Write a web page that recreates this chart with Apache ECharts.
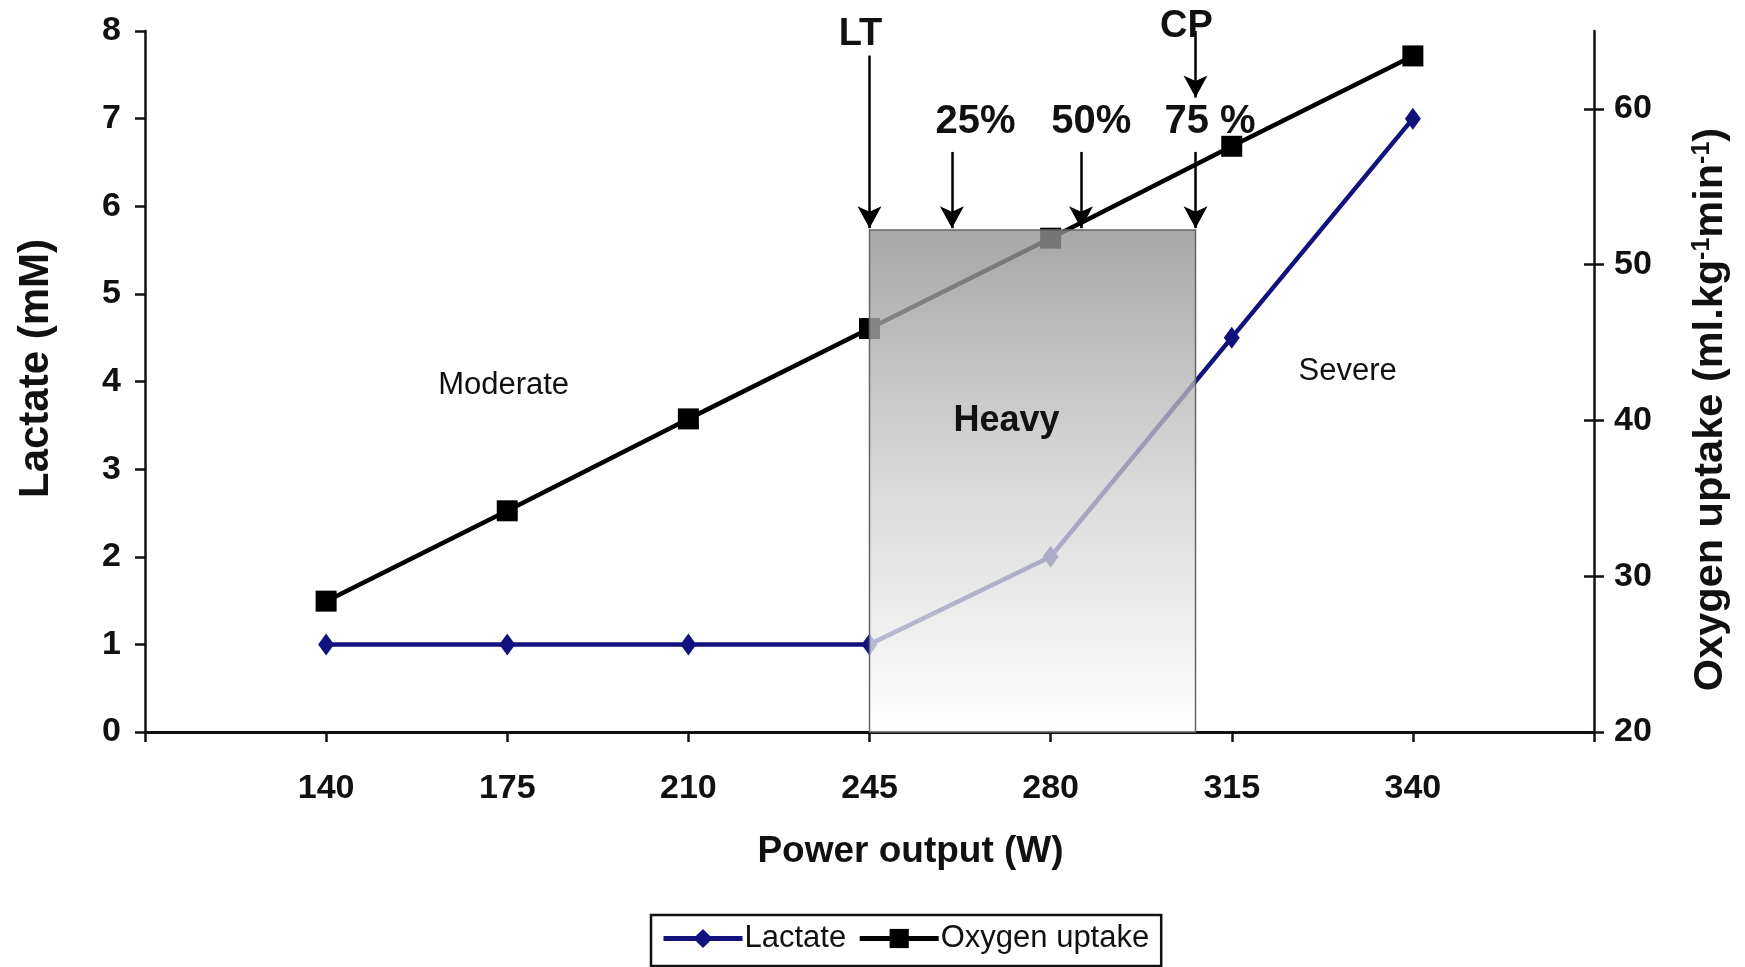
<!DOCTYPE html>
<html>
<head>
<meta charset="utf-8">
<title>Lactate and oxygen uptake vs power output</title>
<script src="https://cdn.jsdelivr.net/npm/echarts@6/dist/echarts.min.js"></script>
<style>
  html, body { margin: 0; padding: 0; background: #fff; }
  #chart { width: 1745px; height: 967px; }
</style>
</head>
<body>
<div id="chart"></div>
<script>
// Power steps (W) shown on the x axis, one per position 1..7
const powerLabels = ['140', '175', '210', '245', '280', '315', '340'];
// Blood lactate (mM), left axis
const lactate = [1, 1, 1, 1, 2, 4.5, 7];
// Oxygen uptake (ml.kg-1.min-1), right axis
const oxygenUptake = [28.4, 34.2, 40.1, 45.9, 51.7, 57.6, 63.4];

// Intensity domains and threshold markers, in axis units (x position, lactate mM)
const heavyZone = { from: 4, to: 5.8, top: 5.73 };
const markerArrows = [
  { x: 4, from: 7.72, to: 5.75 },      // LT
  { x: 4.455, from: 6.62, to: 5.75 },  // 25%
  { x: 5.168, from: 6.62, to: 5.75 },  // 50%
  { x: 5.8, from: 6.62, to: 5.75 },    // 75 %
  { x: 5.8, from: 8.0, to: 7.24 }      // CP
];
const markerTexts = [
  { name: 'LT', x: 3.95, y: 7.98, dy: 2, size: 38, weight: 'bold' },
  { name: 'CP', x: 5.75, y: 8.0, dy: -4, size: 38, weight: 'bold' },
  { name: '25%', x: 4.585, y: 6.96, dy: 0, size: 40, weight: 'bold' },
  { name: '50%', x: 5.225, y: 6.96, dy: 0, size: 40, weight: 'bold' },
  { name: '75 %', x: 5.88, y: 6.96, dy: 0, size: 40, weight: 'bold' },
  { name: 'Moderate', x: 1.98, y: 3.95, dy: 0, size: 31, weight: 'normal' },
  { name: 'Heavy', x: 4.756, y: 3.55, dy: 0, size: 36, weight: 'bold' },
  { name: 'Severe', x: 6.64, y: 4.12, dy: 0, size: 31, weight: 'normal' }
];

const FONT = "'Liberation Sans', Arial, Helvetica, sans-serif";
const INK = '#111';
const NAVY = '#12127f';

const chart = echarts.init(document.getElementById('chart'), null, { renderer: 'canvas' });

const axisLineStyle = { show: true, lineStyle: { color: INK, width: 2.5 } };
const rightTicks = [20, 30, 40, 50, 60];

const option = {
  animation: false,
  backgroundColor: '#fff',
  textStyle: { fontFamily: FONT, color: INK },
  grid: { left: 145, right: 151, top: 31, bottom: 235, containLabel: false },
  legend: {
    data: ['Lactate', 'Oxygen uptake'],
    left: 651,
    top: 915,
    padding: [8, 12, 12, 10],
    itemGap: 11,
    itemWidth: 79,
    itemHeight: 24,
    borderColor: INK,
    borderWidth: 2.5,
    lineStyle: { width: 5 },
    textStyle: { fontFamily: FONT, fontSize: 31, color: INK, padding: [0, 0, 0, -3] }
  },
  xAxis: {
    type: 'value',
    min: 0,
    max: 8,
    interval: 1,
    name: 'Power output (W)',
    nameLocation: 'middle',
    nameGap: 101,
    nameTextStyle: { fontFamily: FONT, fontSize: 37, fontWeight: 'bold', color: INK, padding: [0, 0, 0, 82] },
    axisLine: { show: true, onZero: false, lineStyle: { color: INK, width: 3 } },
    axisTick: { show: true, inside: false, length: 10, lineStyle: { color: INK, width: 2.5 } },
    axisLabel: {
      margin: 40,
      fontFamily: FONT,
      fontSize: 34,
      fontWeight: 'bold',
      color: INK,
      formatter: v => powerLabels[v - 1] || ''
    },
    splitLine: { show: false }
  },
  yAxis: [
    {
      type: 'value',
      position: 'left',
      min: 0,
      max: 8,
      interval: 1,
      name: 'Lactate (mM)',
      nameLocation: 'middle',
      nameGap: 88,
      nameTextStyle: { fontFamily: FONT, fontSize: 42, fontWeight: 'bold', color: INK, padding: [0, 0, 0, 26] },
      axisLine: axisLineStyle,
      axisTick: { show: true, length: 10, lineStyle: { color: INK, width: 2.5 } },
      axisLabel: { margin: 24, fontFamily: FONT, fontSize: 34, fontWeight: 'bold', color: INK },
      splitLine: { show: false }
    },
    {
      type: 'value',
      position: 'right',
      min: 20,
      max: 65,
      interval: 10,
      name: 'Oxygen uptake (ml.kg{sup|-1}min{sup|-1})',
      nameLocation: 'middle',
      nameGap: 96,
      nameTextStyle: {
        fontFamily: FONT, fontSize: 41.5, fontWeight: 'bold', color: INK,
        padding: [0, 56, 0, 0],
        rich: {
          sup: { fontFamily: FONT, fontSize: 25, fontWeight: 'bold', color: INK, verticalAlign: 'top' }
        }
      },
      axisLine: axisLineStyle,
      axisTick: { show: true, length: 10, customValues: rightTicks, lineStyle: { color: INK, width: 2.5 } },
      axisLabel: { margin: 20, fontFamily: FONT, fontSize: 34, fontWeight: 'bold', color: INK, customValues: rightTicks },
      splitLine: { show: false }
    },
    {
      // inner half of the right axis' cross ticks
      type: 'value',
      position: 'right',
      min: 20,
      max: 65,
      interval: 10,
      axisLine: { show: false },
      axisTick: { show: true, inside: true, length: 10, customValues: rightTicks, lineStyle: { color: INK, width: 2.5 } },
      axisLabel: { show: false },
      splitLine: { show: false }
    }
  ],
  series: [
    {
      name: 'Lactate',
      type: 'line',
      yAxisIndex: 0,
      z: 3,
      data: lactate.map((v, i) => [i + 1, v]),
      symbol: 'diamond',
      symbolSize: [16, 22],
      color: NAVY,
      lineStyle: { color: NAVY, width: 4.5 },
      itemStyle: { color: NAVY }
    },
    {
      name: 'Oxygen uptake',
      type: 'line',
      yAxisIndex: 1,
      z: 3,
      data: oxygenUptake.map((v, i) => [i + 1, v]),
      symbol: 'rect',
      symbolSize: 21,
      color: '#000',
      lineStyle: { color: '#000', width: 4.5 },
      itemStyle: { color: '#000' }
    },
    {
      // shaded heavy-intensity domain, laid over the curves
      name: 'heavy-domain',
      type: 'line',
      yAxisIndex: 0,
      z: 6,
      data: [],
      silent: true,
      markArea: {
        silent: true,
        z: 10,
        itemStyle: {
          color: {
            type: 'linear', x: 0, y: 0, x2: 0, y2: 1,
            colorStops: [
              { offset: 0, color: 'rgba(145,145,145,0.80)' },
              { offset: 0.5, color: 'rgba(205,205,205,0.76)' },
              { offset: 1, color: 'rgba(255,255,255,0.76)' }
            ]
          },
          borderColor: '#666',
          borderWidth: 1.5
        },
        data: [[
          { coord: [heavyZone.from, heavyZone.top] },
          { coord: [heavyZone.to, 0] }
        ]]
      }
    },
    {
      // threshold arrows and domain labels
      name: 'markers',
      type: 'line',
      yAxisIndex: 0,
      z: 8,
      data: [],
      silent: true,
      markLine: {
        silent: true,
        z: 12,
        symbol: ['none', 'arrow'],
        symbolSize: [18, 22],
        label: { show: false },
        lineStyle: { color: '#000', width: 2.5, type: 'solid' },
        data: markerArrows.map(a => [
          { coord: [a.x, a.from] },
          { coord: [a.x, a.to] }
        ])
      },
      markPoint: {
        silent: true,
        z: 12,
        symbol: 'circle',
        symbolSize: 1,
        itemStyle: { color: 'rgba(0,0,0,0)' },
        data: markerTexts.map(t => ({
          name: t.name,
          coord: [t.x, t.y],
          label: {
            show: true,
            position: 'inside',
            offset: [0, t.dy],
            formatter: t.name,
            fontFamily: FONT,
            fontSize: t.size,
            fontWeight: t.weight,
            color: INK
          }
        }))
      }
    }
  ]
};

chart.setOption(option);
</script>
</body>
</html>
